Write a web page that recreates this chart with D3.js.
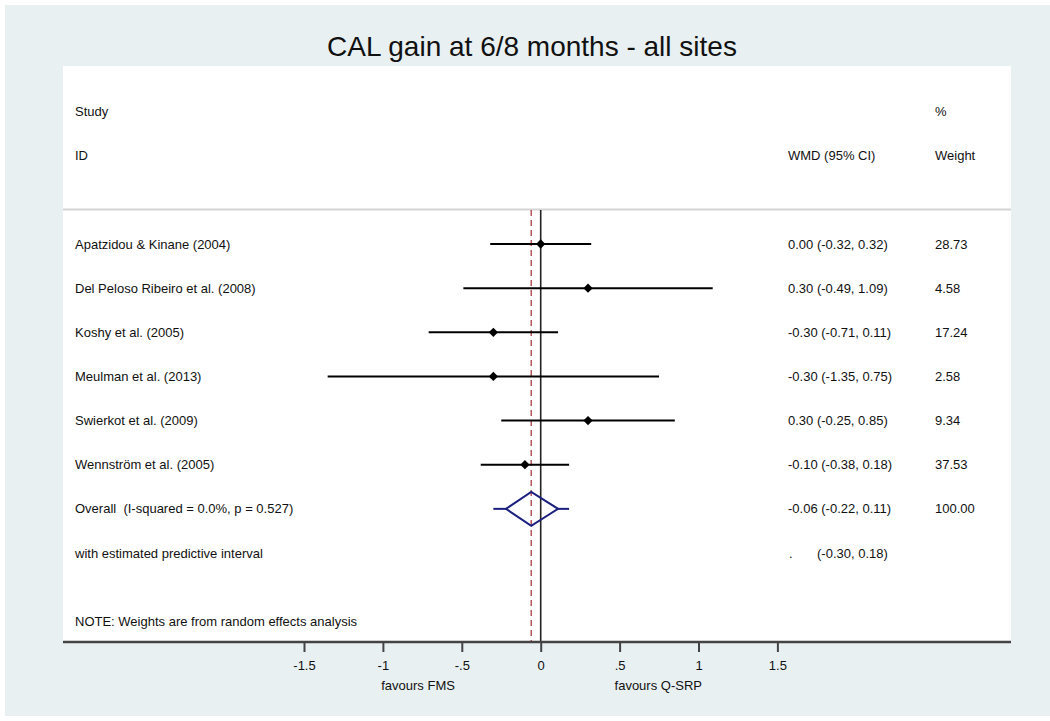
<!DOCTYPE html>
<html>
<head>
<meta charset="utf-8">
<script src="https://cdn.jsdelivr.net/npm/d3@7"></script>
<style>
  body { margin: 0; background: #fff; }
  svg text { font-family: "Liberation Sans", Arial, sans-serif; fill: #111; white-space: pre; }
</style>
</head>
<body>
<div id="canvas"></div>
<script>
// study level data
var studies = ['Apatzidou & Kinane (2004)', 'Del Peloso Ribeiro et al. (2008)', 'Koshy et al. (2005)',
               'Meulman et al. (2013)', 'Swierkot et al. (2009)', 'Wennström et al. (2005)'];
var wmd    = [0.00, 0.30, -0.30, -0.30, 0.30, -0.10];
var ciLow  = [-0.32, -0.49, -0.71, -1.35, -0.25, -0.38];
var ciHigh = [0.32, 1.09, 0.11, 0.75, 0.85, 0.18];
var weights = ['28.73', '4.58', '17.24', '2.58', '9.34', '37.53'];

// pooled estimate
var overallLabel = 'Overall  (I-squared = 0.0%, p = 0.527)';
var overallEst = -0.06, overallLow = -0.22, overallHigh = 0.11, overallWeight = '100.00';
var predLabel = 'with estimated predictive interval';
var predLow = -0.30, predHigh = 0.18;

var ticks = [-1.5, -1, -0.5, 0, 0.5, 1, 1.5];

var W = 1050, H = 721, fs = '13px';
var svg = d3.select('#canvas').append('svg')
    .attr('width', W).attr('height', H);

// backgrounds
svg.append('rect').attr('x', 5).attr('y', 5).attr('width', W - 5).attr('height', 711)
    .attr('fill', '#e8f0f2');
var plotL = 63, plotR = 1011, plotT = 66, axisY = 641;
svg.append('rect').attr('x', plotL).attr('y', plotT).attr('width', plotR - plotL).attr('height', axisY - plotT)
    .attr('fill', '#fff');

svg.append('text').attr('x', 532).attr('y', 56).attr('text-anchor', 'middle')
    .style('font-size', '28px').text('CAL gain at 6/8 months - all sites');

var x = d3.scaleLinear().domain([-1.5, 1.5]).range([304, 777.4]);

var rowIds = studies.concat(['overall', 'pred']);
var y = d3.scalePoint().domain(rowIds).range([244, 553]);

var colLabel = 75, colEst = 788, colW = 935;

// header
var header = svg.append('g').style('font-size', fs);
header.append('text').attr('x', colLabel).attr('y', 116).text('Study');
header.append('text').attr('x', colLabel).attr('y', 160).text('ID');
header.append('text').attr('x', colEst).attr('y', 160).text('WMD (95% CI)');
header.append('text').attr('x', colW).attr('y', 116).text('%');
header.append('text').attr('x', colW).attr('y', 160).text('Weight');

svg.append('line').attr('x1', plotL).attr('x2', plotR).attr('y1', 209.5).attr('y2', 209.5)
    .attr('stroke', '#d4d4d4').attr('stroke-width', 2);

// reference lines
svg.append('line').attr('x1', x(0)).attr('x2', x(0)).attr('y1', 210).attr('y2', axisY)
    .attr('stroke', '#222').attr('stroke-width', 1.6);
svg.append('line').attr('x1', x(overallEst)).attr('x2', x(overallEst)).attr('y1', 210).attr('y2', axisY)
    .attr('stroke', '#b5565c').attr('stroke-width', 1.5).attr('stroke-dasharray', '6,4');

var fmt = function(v) { return v.toFixed(2); };

// study rows
var rows = svg.selectAll('.row')
    .data(studies.map(function(s, i) {
        return {name: s, est: wmd[i], lo: ciLow[i], hi: ciHigh[i], w: weights[i]};
    }))
    .enter().append('g').attr('class', 'row')
    .attr('transform', function(d) { return 'translate(0,' + y(d.name) + ')'; });

rows.append('line')
    .attr('x1', function(d) { return x(d.lo); })
    .attr('x2', function(d) { return x(d.hi); })
    .attr('stroke', '#000').attr('stroke-width', 2);
rows.append('path')
    .attr('d', d3.symbol(d3.symbolDiamond2, 55))
    .attr('transform', function(d) { return 'translate(' + x(d.est) + ',0)'; })
    .attr('fill', '#000');
rows.append('text').attr('x', colLabel).attr('dy', '0.35em').style('font-size', fs)
    .text(function(d) { return d.name; });
rows.append('text').attr('x', colEst).attr('dy', '0.35em').style('font-size', fs)
    .text(function(d) { return fmt(d.est) + ' (' + fmt(d.lo) + ', ' + fmt(d.hi) + ')'; });
rows.append('text').attr('x', colW).attr('dy', '0.35em').style('font-size', fs)
    .text(function(d) { return d.w; });

// overall diamond with predictive interval
var yo = y('overall'), dh = 17;
svg.append('line').attr('x1', x(predLow)).attr('x2', x(overallLow)).attr('y1', yo).attr('y2', yo)
    .attr('stroke', '#1b1f7e').attr('stroke-width', 2);
svg.append('line').attr('x1', x(overallHigh)).attr('x2', x(predHigh)).attr('y1', yo).attr('y2', yo)
    .attr('stroke', '#1b1f7e').attr('stroke-width', 2);
svg.append('path')
    .attr('d', 'M' + x(overallLow) + ',' + yo + 'L' + x(overallEst) + ',' + (yo - dh) +
               'L' + x(overallHigh) + ',' + yo + 'L' + x(overallEst) + ',' + (yo + dh) + 'Z')
    .attr('fill', 'none').attr('stroke', '#1b1f7e').attr('stroke-width', 2);

var txt = svg.append('g').style('font-size', fs);
txt.append('text').attr('x', colLabel).attr('y', yo).attr('dy', '0.35em').text(overallLabel);
txt.append('text').attr('x', colEst).attr('y', yo).attr('dy', '0.35em')
    .text(fmt(overallEst) + ' (' + fmt(overallLow) + ', ' + fmt(overallHigh) + ')');
txt.append('text').attr('x', colW).attr('y', yo).attr('dy', '0.35em').text(overallWeight);
var yp = y('pred');
txt.append('text').attr('x', colEst + 1).attr('y', yp).attr('dy', '0.35em').text('.');
txt.append('text').attr('x', colLabel).attr('y', yp).attr('dy', '0.35em').text(predLabel);
txt.append('text').attr('x', 817).attr('y', yp).attr('dy', '0.35em')
    .text('(' + fmt(predLow) + ', ' + fmt(predHigh) + ')');
txt.append('text').attr('x', colLabel).attr('y', 621).attr('dy', '0.35em')
    .text('NOTE: Weights are from random effects analysis');

// x axis
svg.append('line').attr('x1', plotL).attr('x2', plotR).attr('y1', axisY + 1).attr('y2', axisY + 1)
    .attr('stroke', '#444').attr('stroke-width', 2.5);
var axis = d3.axisBottom(x).tickValues(ticks).tickSize(10).tickPadding(9)
    .tickFormat(function(v) { return v === 0 ? '0' : String(v).replace('0.', '.'); });
var gx = svg.append('g').attr('transform', 'translate(0,' + (axisY + 1) + ')').call(axis);
gx.select('.domain').remove();
gx.selectAll('.tick line').attr('stroke', '#444').attr('stroke-width', 2);
gx.selectAll('.tick text').style('font-size', fs).style('font-family', '"Liberation Sans", Arial, sans-serif')
    .attr('fill', '#111');

svg.append('text').attr('x', x(-0.777)).attr('y', 690).attr('text-anchor', 'middle')
    .style('font-size', fs).text('favours FMS');
svg.append('text').attr('x', x(0.745)).attr('y', 690).attr('text-anchor', 'middle')
    .style('font-size', fs).text('favours Q-SRP');
</script>
</body>
</html>
